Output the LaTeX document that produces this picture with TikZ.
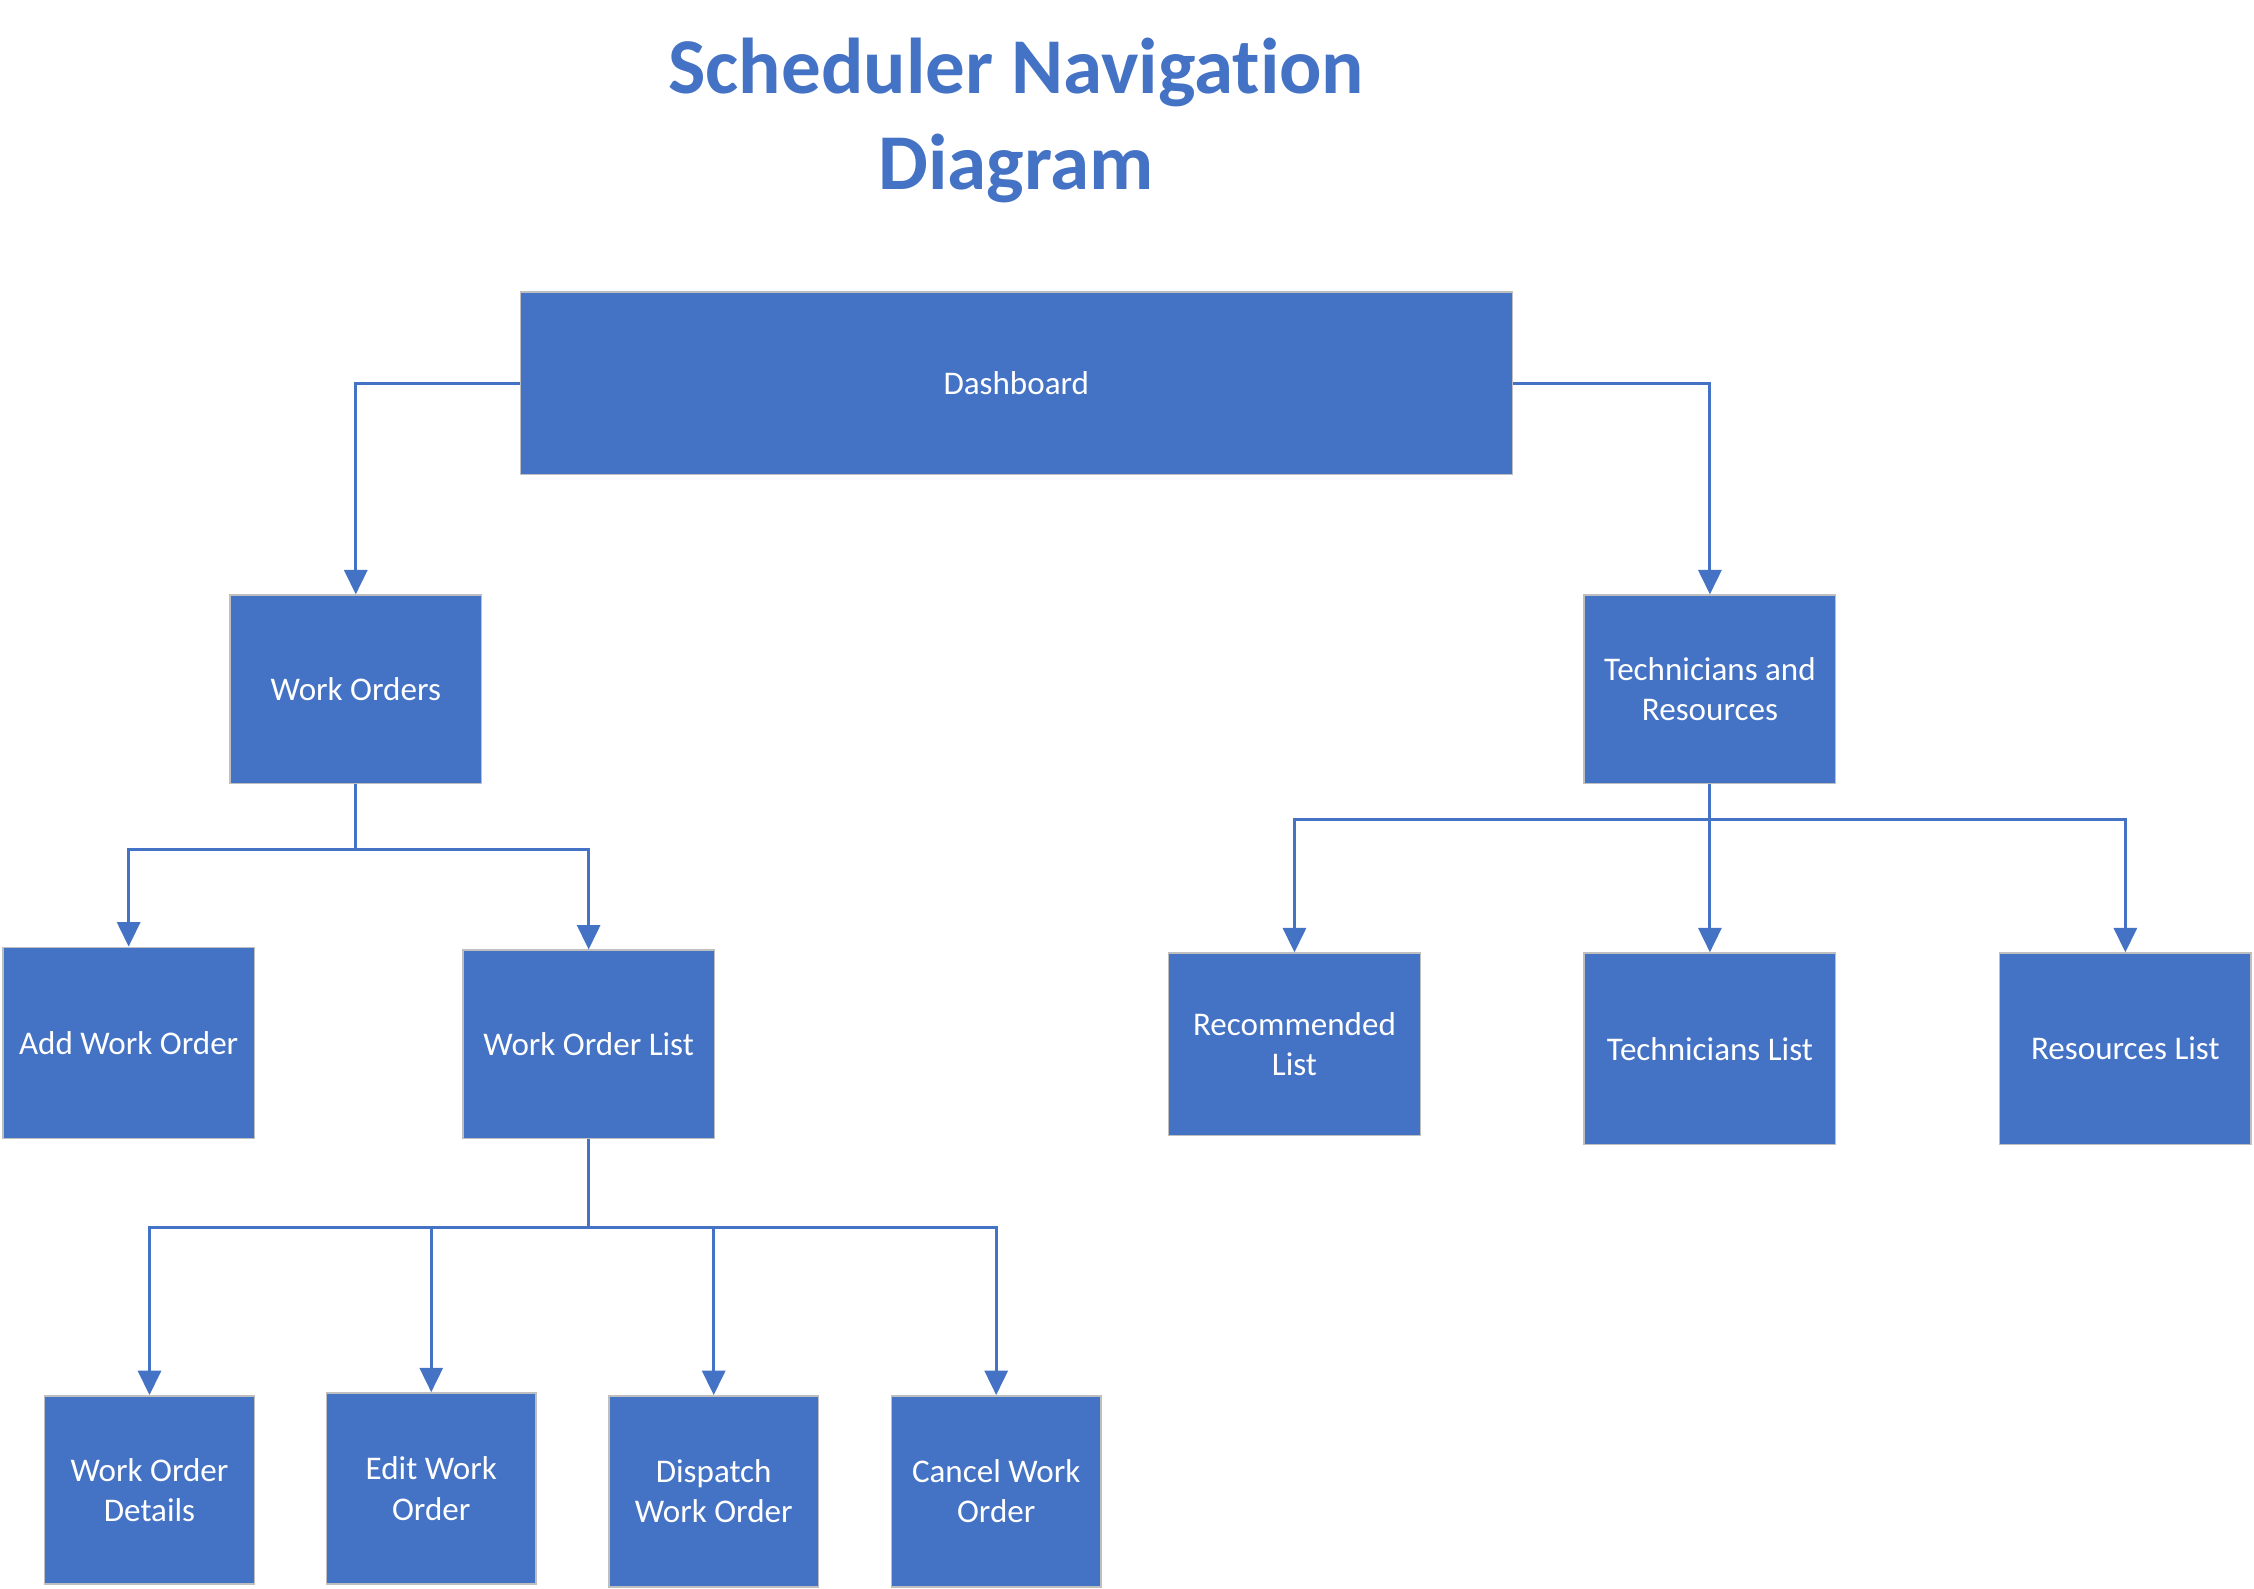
\documentclass[tikz,border=0pt]{standalone}
\usepackage{fontspec}
\setmainfont{Carlito}[Ligatures=NoCommon]
\usetikzlibrary{arrows.meta}
\definecolor{navblue}{HTML}{4472C4}
\definecolor{navedge}{HTML}{BFBFBF}

\begin{document}
\begin{tikzpicture}[x=1pt,y=-1pt,>={Triangle[length=17pt,width=16pt]},
    box/.style={rectangle,fill=navblue,draw=navedge,line width=1pt,text=white,align=center,inner sep=0pt,
      font=\fontsize{23}{28}\selectfont},
    link/.style={draw=navblue,line width=2.1pt}]
  \useasboundingbox (0,0) rectangle (1568,1105);
  \node[text=navblue,align=center,font=\fontsize{55}{67}\selectfont\bfseries] (title) at (707,84) {Scheduler Navigation\\Diagram};
  % top level
  \node[box,minimum width=690pt,minimum height=127pt] (dash) at (707,266.5) {Dashboard};
  \node[box,minimum width=175pt,minimum height=131pt] (wo) at (247.5,479.5) {Work Orders};
  \node[box,minimum width=175pt,minimum height=131pt] (tech) at (1189.5,479.5) {Technicians and\\Resources};
  % second level
  \node[box,minimum width=175pt,minimum height=133pt] (add) at (89.5,725.5) {Add Work Order};
  \node[box,minimum width=175pt,minimum height=131pt] (wol) at (409.5,726.5) {Work Order List};
  \node[box,minimum width=175pt,minimum height=127pt] (rec) at (900.5,726.5) {Recommended\\List};
  \node[box,minimum width=175pt,minimum height=133pt] (tlist) at (1189.5,729.5) {Technicians List};
  \node[box,minimum width=175pt,minimum height=133pt] (rlist) at (1478.5,729.5) {Resources List};
  % third level
  \node[box,minimum width=146pt,minimum height=131pt] (wod) at (104,1036.5) {Work Order\\Details};
  \node[box,minimum width=146pt,minimum height=133pt] (edit) at (300,1035.5) {Edit Work\\Order};
  \node[box,minimum width=146pt,minimum height=133pt] (disp) at (496.5,1037.5) {Dispatch\\Work Order};
  \node[box,minimum width=146pt,minimum height=133pt] (cancel) at (693,1037.5) {Cancel Work\\Order};
  % junctions
  \coordinate (woj) at (247.5,591);
  \coordinate (techj) at (1189.5,570);
  \coordinate (wolj) at (409.5,854);
  \draw[link,->] (dash.west) -| (wo.north);
  \draw[link,->] (dash.east) -| (tech.north);
  \draw[link] (wo.south) -- (woj);
  \draw[link,->] (woj) -| (add.north);
  \draw[link,->] (woj) -| (wol.north);
  \draw[link] (tech.south) -- (techj);
  \draw[link,->] (techj) -| (rec.north);
  \draw[link,->] (techj) -- (tlist.north);
  \draw[link,->] (techj) -| (rlist.north);
  \draw[link] (wol.south) -- (wolj);
  \draw[link,->] (wolj) -| (wod.north);
  \draw[link,->] (wolj) -| (edit.north);
  \draw[link,->] (wolj) -| (disp.north);
  \draw[link,->] (wolj) -| (cancel.north);
\end{tikzpicture}
\end{document}
